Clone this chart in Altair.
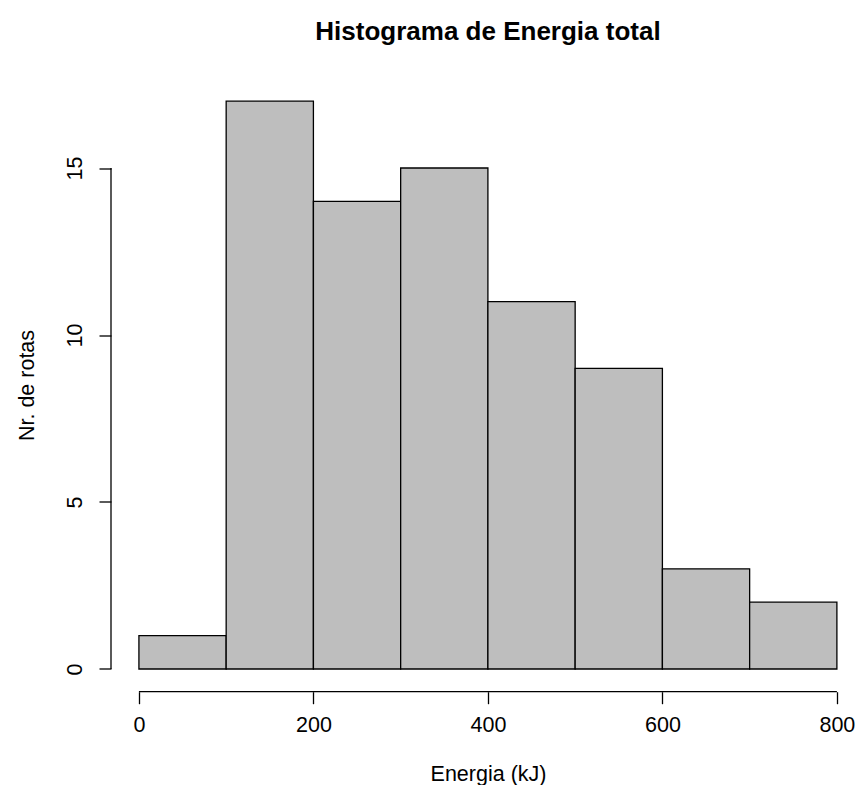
import altair as alt
import pandas as pd

bin_start = [0, 100, 200, 300, 400, 500, 600, 700]
bin_end = [100, 200, 300, 400, 500, 600, 700, 800]
counts = [1, 17, 14, 15, 11, 9, 3, 2]
x_ticks = [0, 200, 400, 600, 800]
y_ticks = [0, 5, 10, 15]

df = pd.DataFrame({"start": bin_start, "end": bin_end, "count": counts,
                   "base": [0] * len(counts)})

FONT = "Liberation Sans"
W, H = 745, 613.2
xmin, xmax = -32, 821.9
ymin, ymax = -0.68, 17.68

xscale = alt.Scale(domain=[xmin, xmax], nice=False, zero=False)
yscale = alt.Scale(domain=[ymin, ymax], nice=False, zero=False)

xaxis = alt.Axis(values=x_ticks, domain=False, grid=False, tickColor="black",
                 tickSize=12, tickWidth=1.3, labelFontSize=21.5, labelFont=FONT,
                 labelColor="black", labelPadding=11, labelFlush=False,
                 labelOverlap=False, title="Energia (kJ)", titleFont=FONT,
                 titleFontSize=21.5, titleFontWeight="normal", titleColor="black",
                 titleX=377, titleY=89, titleAlign="center",
                 titleBaseline="alphabetic", format="d")
yaxis = alt.Axis(values=y_ticks, domain=False, grid=False, tickColor="black",
                 tickSize=12, tickWidth=1.3, labelFontSize=21.5, labelFont=FONT,
                 labelColor="black", labelAngle=270, labelAlign="center",
                 labelBaseline="alphabetic", labelPadding=18, labelFlush=False,
                 labelOverlap=False, title="Nr. de rotas", titleFont=FONT,
                 titleFontSize=21.5, titleFontWeight="normal", titleColor="black",
                 titleAngle=270, titleX=-78, titleY=306.5, titleAlign="center",
                 titleBaseline="alphabetic", format="d")

bars = alt.Chart(df).mark_rect(fill="#BEBEBE", stroke="black", strokeWidth=1.3).encode(
    x=alt.X("start:Q", scale=xscale, axis=xaxis),
    x2="end:Q",
    y=alt.Y("count:Q", scale=yscale, axis=yaxis),
    y2="base:Q",
)

xline_df = pd.DataFrame({"x": [x_ticks[0]], "x2": [x_ticks[-1]], "y": [ymin]})
xline = alt.Chart(xline_df).mark_rule(color="black", strokeWidth=1.3).encode(
    x=alt.X("x:Q", scale=xscale), x2="x2:Q", y=alt.Y("y:Q", scale=yscale))

yline_df = pd.DataFrame({"y": [y_ticks[0]], "y2": [y_ticks[-1]], "x": [xmin]})
yline = alt.Chart(yline_df).mark_rule(color="black", strokeWidth=1.3).encode(
    y=alt.Y("y:Q", scale=yscale), y2="y2:Q", x=alt.X("x:Q", scale=xscale))

chart = alt.layer(bars, xline, yline).properties(
    width=W, height=H,
    title=alt.TitleParams("Histograma de Energia total", font=FONT, fontSize=26,
                          fontWeight="bold", color="black", anchor="middle",
                          frame="group", dx=4.5, offset=12.5,
                          baseline="alphabetic"),
    autosize="none",
    padding={"left": 111, "top": 78.5, "right": 0, "bottom": 93.3},
).configure(background="white").configure_view(stroke=None, strokeWidth=0)

chart.save("out.html", embed_options={"renderer": "svg", "actions": False})
